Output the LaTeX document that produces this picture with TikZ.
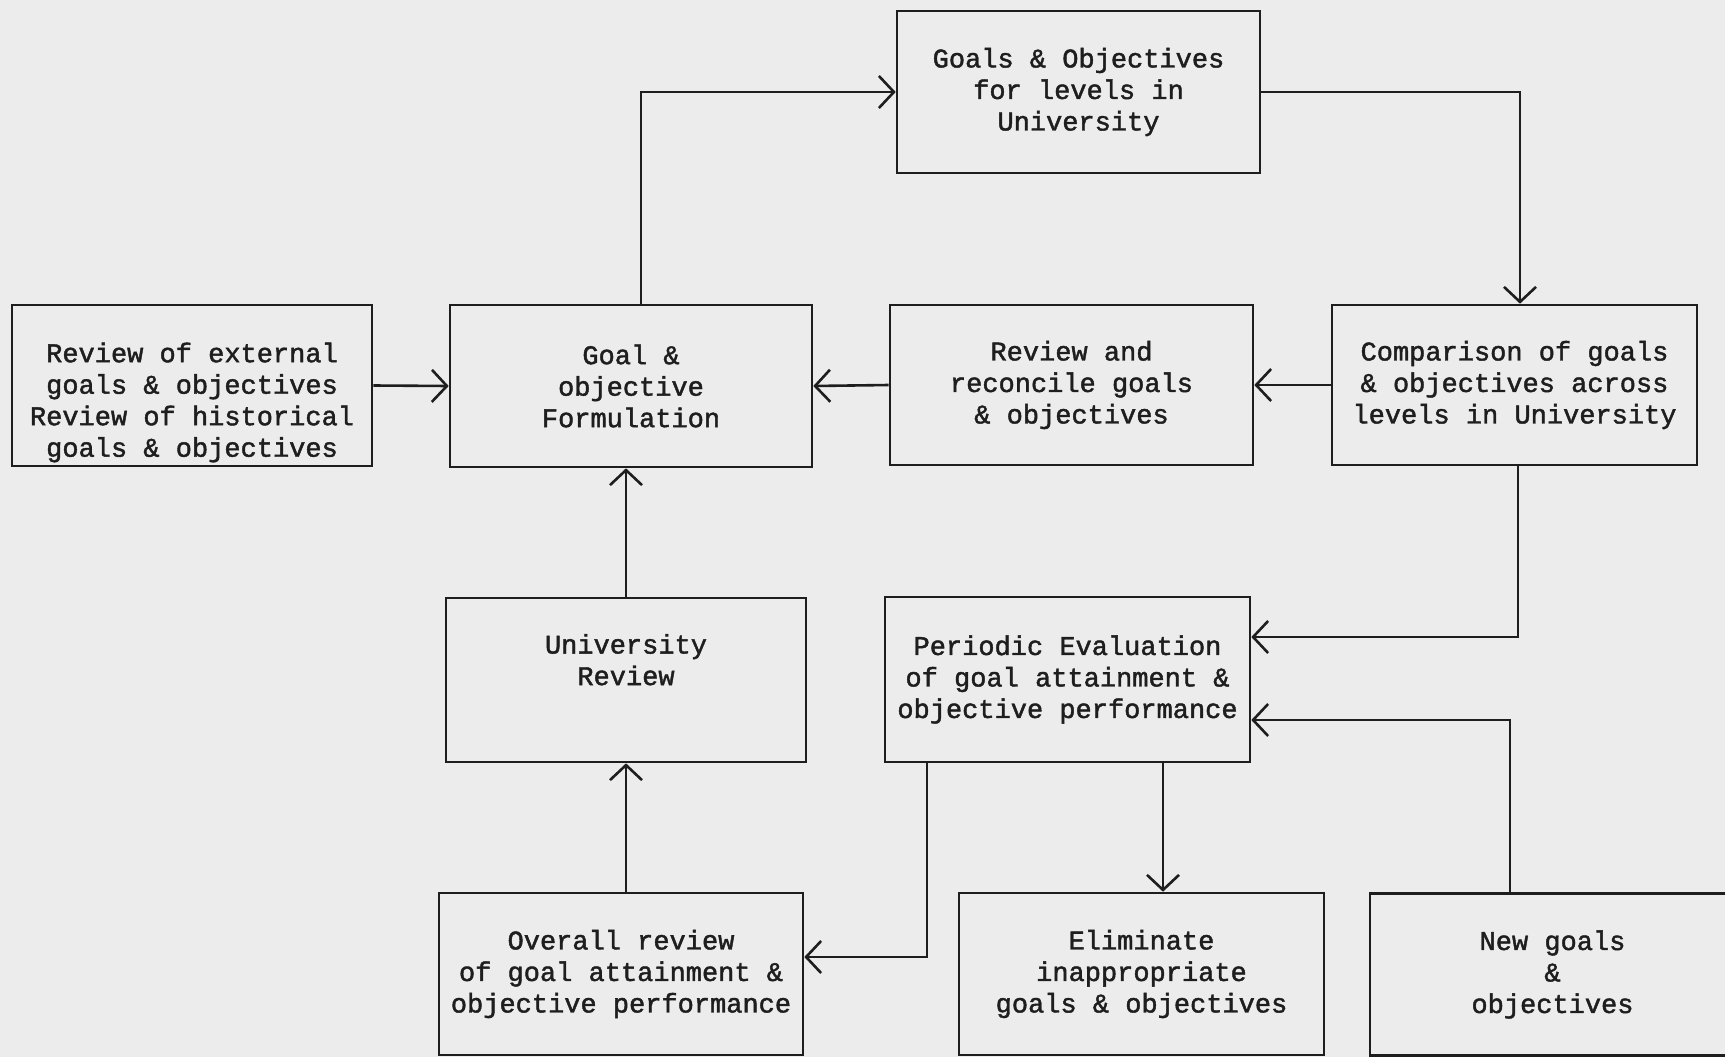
\documentclass[tikz,border=0pt]{standalone}
\usepackage{fontspec}
\setmonofont[FakeBold=1.6]{Liberation Mono}
\usetikzlibrary{arrows.meta}
\definecolor{paper}{RGB}{236,236,236}
\definecolor{ink}{RGB}{30,30,30}
\begin{document}
\begin{tikzpicture}[x=1pt,y=-1pt,
  box/.style={draw=ink,line width=2.6pt,minimum width=362pt,minimum height=162pt,
    align=center,inner sep=0pt,text=ink,
    font=\ttfamily\fontsize{27}{31.5}\selectfont},
  arr/.style={draw=ink,line width=2.6pt,-{Straight Barb[length=15pt,width=32pt,line width=2.6pt]}}]
\fill[paper] (0,0) rectangle (1725,1057);
\useasboundingbox (0,0) rectangle (1725,1057);
\node[box,minimum width=363pt] (goals) at (1078.5,92) {Goals \& Objectives\\for levels in\\University};
\node[box,minimum width=360pt,minimum height=161pt] (ext) at (192,385.5) {\strut\\Review of external\\goals \& objectives\\Review of historical\\goals \& objectives};
\node[box] (form) at (631,386) {Goal \&\\objective\\Formulation};
\node[box,minimum width=363pt,minimum height=160pt] (recon) at (1071.5,385) {Review and\\reconcile goals\\\& objectives};
\node[box,minimum width=365pt,minimum height=160pt] (comp) at (1514.5,385) {Comparison of goals\\\& objectives across\\levels in University};
\node[box,minimum width=360pt,minimum height=164pt] (univ) at (626,680) {University\\Review\\\strut};
\node[box,minimum width=365pt,minimum height=165pt] (period) at (1067.5,679.5) {Periodic Evaluation\\of goal attainment \&\\objective performance};
\node[box,minimum width=364pt] (overall) at (621,974) {Overall review\\of goal attainment \&\\objective performance};
\node[box,minimum width=365pt] (elim) at (1141.5,974) {Eliminate\\inappropriate\\goals \& objectives};
\node[box,minimum width=365pt] (newg) at (1552.5,974.5) {New goals\\\&\\objectives};
\draw[arr] ([xshift=10pt]form.north) |- (goals.west);
\draw[arr] (goals.east) -| ([xshift=5.5pt]comp.north);
\draw[arr] (ext.east) -- (form.west);
\draw[arr] (recon.west) -- (form.east);
\draw[arr] (comp.west) -- (recon.east);
\draw[arr] (univ.north) -- (univ.north |- form.south);
\draw[arr] ([xshift=3.5pt]comp.south) |- ([yshift=42.5pt]period.east);
\draw[arr] ([xshift=-42.5pt]newg.north) |- ([yshift=-40.5pt]period.east);
\draw[arr] ([xshift=95.5pt]period.south) -- ([xshift=95.5pt]period.south |- elim.north);
\draw[arr] ([xshift=-140.5pt]period.south) |- ([yshift=17pt]overall.east);
\draw[arr] (overall.north -| univ.south) -- (univ.south);
\end{tikzpicture}
\end{document}
